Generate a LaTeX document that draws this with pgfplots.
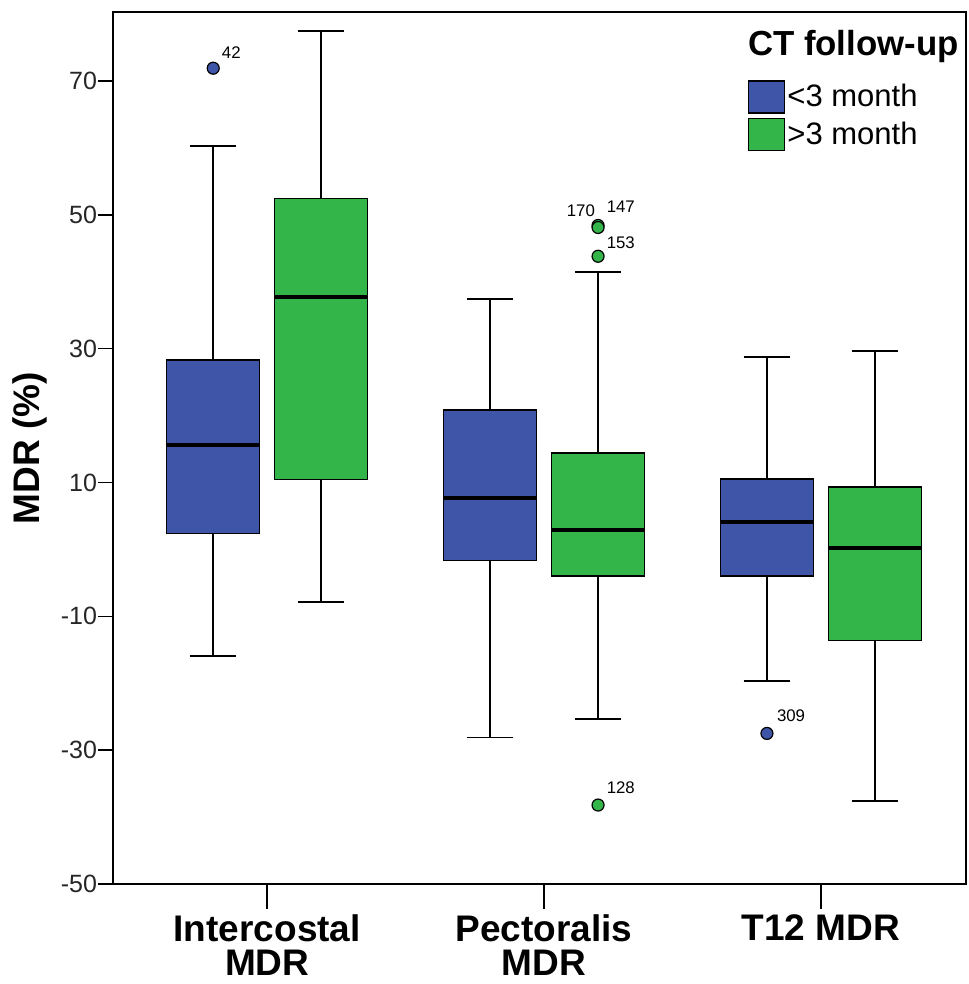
\documentclass[border=0pt]{standalone}
\usepackage{fontspec}
\setmainfont{Liberation Sans}
\usepackage{pgfplots}
\pgfplotsset{compat=1.18}
\usepgfplotslibrary{statistics}

\definecolor{spssblue}{RGB}{62,85,168}
\definecolor{spssgreen}{RGB}{52,181,74}

\begin{document}
\begin{tikzpicture}
\begin{axis}[
    name=ax,
    scale only axis,
    width=426.5pt, height=436pt,
    xmin=0.443, xmax=3.524,
    ymin=-50, ymax=80.3,
    xtick pos=bottom, ytick pos=left,
    xtick={1,2,3},
    xticklabels={Intercostal\\MDR, Pectoralis\\MDR, T12 MDR},
    x tick label style={font=\bfseries\fontsize{18.5}{17}\selectfont, align=center, anchor=north, yshift=-4.5pt},
    xtick style={/pgfplots/major tick length=12.5pt},
    ytick={-50,-30,-10,10,30,50,70},
    yticklabels={-50,-30,-10,10,30,50,70},
    y tick label style={font=\fontsize{12.5}{13}\selectfont, text=black!85, xshift=3pt},
    ylabel={MDR (\%)},
    ylabel style={font=\bfseries\fontsize{18.5}{19}\selectfont, at={(axis description cs:-0.0973,0.5)}, anchor=center},
    tick align=outside,
    major tick length=7.5pt,
    tick style={line width=0.8pt, black},
    axis line style={line width=1pt},
    boxplot/draw direction=y,
    boxplot/every median/.style={line width=1.8pt},
    boxplot/every whisker/.style={line width=0.9pt},
    boxplot/every box/.style={line width=0.7pt},
    legend image code/.code={\draw[#1] (0pt,-8pt) rectangle (18pt,8pt);},
    legend style={draw=none, fill=none, at={(0.744,0.922)}, anchor=north west,
        font=\fontsize{15.5}{16}\selectfont, inner sep=0pt, row sep=2pt,
        nodes={inner sep=1pt}},
    legend cell align=left,
]
% Intercostal
\addplot[forget plot, fill=spssblue, draw=black, mark=*, mark size=3pt, mark options={fill=spssblue, draw=black, line width=0.6pt},
  boxplot prepared={draw position=0.805, lower whisker=-15.9, lower quartile=2.4, median=15.6,
  upper quartile=28.3, upper whisker=60.3, box extend=0.336, whisker extend=0.168}]
  coordinates {(0,71.9)};
\addplot[forget plot, fill=spssgreen, draw=black,
  boxplot prepared={draw position=1.195, lower whisker=-7.9, lower quartile=10.4, median=37.7,
  upper quartile=52.4, upper whisker=77.5, box extend=0.336, whisker extend=0.168}]
  coordinates {};
% Pectoralis
\addplot[forget plot, fill=spssblue, draw=black,
  boxplot prepared={draw position=1.805, lower whisker=-28.1, lower quartile=-1.7, median=7.7,
  upper quartile=20.8, upper whisker=37.4, box extend=0.336, whisker extend=0.168}]
  coordinates {};
\addplot[forget plot, fill=spssgreen, draw=black, mark=*, mark size=3pt, mark options={fill=spssgreen, draw=black, line width=0.6pt},
  boxplot prepared={draw position=2.195, lower whisker=-25.4, lower quartile=-4.0, median=2.9,
  upper quartile=14.4, upper whisker=41.4, box extend=0.336, whisker extend=0.168}]
  coordinates {(0,48.4) (0,48.1) (0,43.8) (0,-38.2)};
% T12
\addplot[forget plot, fill=spssblue, draw=black, mark=*, mark size=3pt, mark options={fill=spssblue, draw=black, line width=0.6pt},
  boxplot prepared={draw position=2.805, lower whisker=-19.7, lower quartile=-4.0, median=4.1,
  upper quartile=10.5, upper whisker=28.7, box extend=0.336, whisker extend=0.168}]
  coordinates {(0,-27.5)};
\addplot[forget plot, fill=spssgreen, draw=black,
  boxplot prepared={draw position=3.195, lower whisker=-37.6, lower quartile=-13.6, median=0.2,
  upper quartile=9.3, upper whisker=29.6, box extend=0.336, whisker extend=0.168}]
  coordinates {};

\addlegendimage{fill=spssblue, draw=black, line width=0.7pt}
\addlegendentry{<3 month}
\addlegendimage{fill=spssgreen, draw=black, line width=0.7pt}
\addlegendentry{>3 month}

% outlier case numbers
\begin{scope}[every node/.style={font=\fontsize{8.4}{9}\selectfont, inner sep=0pt}]
\node[anchor=south west] at (axis cs:0.835,73.3) {42};
\node[anchor=south east] at (axis cs:2.185,49.7) {170};
\node[anchor=south west] at (axis cs:2.225,50.3) {147};
\node[anchor=south west] at (axis cs:2.225,44.9) {153};
\node[anchor=south west] at (axis cs:2.225,-36.5) {128};
\node[anchor=south west] at (axis cs:2.840,-25.8) {309};
\end{scope}
\node[font=\bfseries\fontsize{17.4}{18}\selectfont] at (rel axis cs:0.868,0.960) {CT follow-up};
\end{axis}
\path (ax.south west) ++(-56.5pt,-50pt) coordinate (bbA);
\path (ax.north east) ++(1pt,6pt) coordinate (bbB);
\pgfresetboundingbox
\path (bbA) rectangle (bbB);
\end{tikzpicture}
\end{document}
